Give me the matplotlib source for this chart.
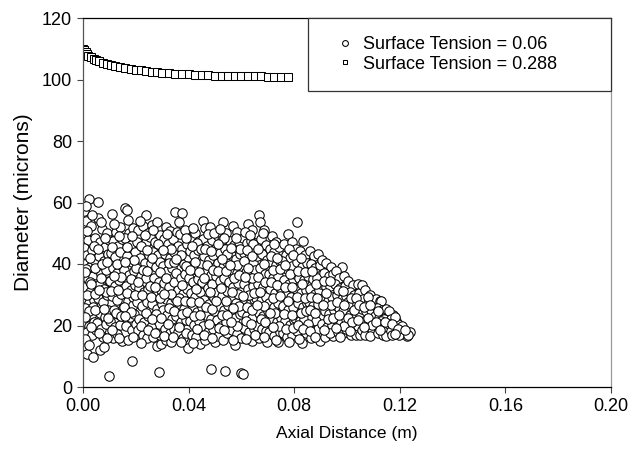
import matplotlib
matplotlib.use("Agg")
import matplotlib.pyplot as plt

plt.rcParams['font.family'] = ['Liberation Sans', 'DejaVu Sans']

# Surface Tension = 0.288 (squares)
sq_x = [0.000, 0.0005, 0.001, 0.0015, 0.002, 0.003, 0.004, 0.005, 0.006, 0.0075,
        0.009, 0.0105, 0.012, 0.014, 0.016, 0.018, 0.020, 0.022, 0.024, 0.026,
        0.028, 0.030, 0.0325, 0.035, 0.0375, 0.040, 0.0425, 0.045, 0.0475, 0.050,
        0.0525, 0.055, 0.0575, 0.060, 0.0625, 0.065, 0.0675, 0.070, 0.0725, 0.075,
        0.0775]
sq_y = [110.0, 109.6, 109.0, 108.4, 107.8, 107.2, 106.7, 106.3, 105.9, 105.5,
        105.1, 104.8, 104.5, 104.1, 103.8, 103.5, 103.2, 103.0, 102.8, 102.6,
        102.4, 102.2, 102.0, 101.9, 101.8, 101.7, 101.6, 101.5, 101.4, 101.3,
        101.2, 101.2, 101.1, 101.1, 101.0, 101.0, 101.0, 100.9, 100.9, 100.9,
        100.9]

# Surface Tension = 0.06 (circles) (x in m, d in microns)
band_00 = [(0.0005, 57.3), (0.0024, 61.1), (0.0010, 54.0), (0.0030, 52.5), (0.0008, 49.5), (0.0020, 47.8),
           (0.0045, 48.6), (0.0003, 45.2), (0.0015, 43.0), (0.0035, 44.5), (0.0006, 40.1), (0.0025, 39.0),
           (0.0042, 41.2), (0.0002, 36.8), (0.0018, 35.2), (0.0038, 36.0), (0.0009, 32.4), (0.0028, 31.0),
           (0.0047, 33.5), (0.0004, 28.9), (0.0021, 27.4), (0.0040, 28.2), (0.0012, 24.6), (0.0032, 23.5),
           (0.0001, 21.3), (0.0022, 19.8), (0.0043, 21.0), (0.0014, 17.9), (0.0033, 16.8), (0.0014, 10.8),
           (0.0039, 9.7), (0.0007, 25.8), (0.0026, 34.1), (0.0011, 38.3), (0.0036, 26.0), (0.0048, 18.5)]
band_05 = [(0.0058, 60.3), (0.0072, 51.3), (0.0055, 55.0), (0.0090, 50.2), (0.0065, 47.0), (0.0082, 45.5),
           (0.0098, 47.8), (0.0060, 42.6), (0.0078, 41.0), (0.0094, 43.2), (0.0053, 38.4), (0.0070, 36.9),
           (0.0088, 38.0), (0.0062, 33.3), (0.0080, 32.0), (0.0097, 34.5), (0.0056, 29.1), (0.0074, 27.6),
           (0.0091, 29.8), (0.0066, 24.2), (0.0084, 22.9), (0.0052, 20.7), (0.0070, 19.0), (0.0089, 20.6),
           (0.0064, 12.1), (0.0080, 13.0), (0.0076, 16.4), (0.0095, 25.0), (0.0100, 3.6)]
band_10 = [(0.0109, 56.2), (0.0125, 50.5), (0.0140, 52.0), (0.0115, 47.4), (0.0133, 46.0), (0.0148, 48.0),
           (0.0105, 43.6), (0.0122, 42.2), (0.0139, 44.0), (0.0112, 38.8), (0.0130, 37.2), (0.0146, 39.5),
           (0.0103, 34.6), (0.0120, 33.0), (0.0137, 34.8), (0.0110, 29.7), (0.0127, 28.2), (0.0144, 30.4),
           (0.0117, 25.0), (0.0134, 23.8), (0.0104, 21.4), (0.0121, 19.5), (0.0141, 20.2), (0.0113, 16.0),
           (0.0147, 14.8), (0.0128, 17.2), (0.0150, 25.6)]
band_15 = [(0.0159, 58.1), (0.0165, 57.6), (0.0175, 50.0), (0.0190, 51.8), (0.0158, 48.5), (0.0183, 46.2),
           (0.0198, 44.0), (0.0168, 42.5), (0.0187, 40.6), (0.0155, 38.0), (0.0174, 36.4), (0.0193, 37.8),
           (0.0162, 33.0), (0.0180, 31.5), (0.0197, 33.2), (0.0170, 28.1), (0.0188, 26.6), (0.0156, 26.0),
           (0.0177, 22.7), (0.0195, 23.8), (0.0163, 20.0), (0.0184, 18.4), (0.0199, 20.5), (0.0172, 15.3),
           (0.0184, 8.5), (0.0191, 29.4)]
band_20 = [(0.0239, 55.9), (0.0210, 51.0), (0.0228, 52.5), (0.0245, 50.0), (0.0205, 47.2), (0.0222, 45.8),
           (0.0240, 47.0), (0.0215, 42.0), (0.0233, 40.4), (0.0249, 42.8), (0.0202, 38.6), (0.0220, 36.0),
           (0.0237, 35.4), (0.0212, 32.2), (0.0230, 30.8), (0.0247, 32.0), (0.0204, 27.8), (0.0224, 26.2),
           (0.0242, 27.5), (0.0214, 22.0), (0.0232, 21.0), (0.0248, 23.0), (0.0208, 18.5), (0.0226, 17.0),
           (0.0243, 15.8), (0.0218, 14.2)]
band_25 = [(0.0260, 52.6), (0.0280, 53.8), (0.0255, 48.8), (0.0272, 47.0), (0.0290, 49.5), (0.0265, 44.0),
           (0.0283, 43.0), (0.0298, 45.2), (0.0257, 40.2), (0.0276, 39.0), (0.0293, 40.6), (0.0268, 35.6),
           (0.0286, 34.2), (0.0253, 33.0), (0.0275, 30.0), (0.0295, 31.4), (0.0262, 27.0), (0.0282, 25.5),
           (0.0299, 27.0), (0.0270, 21.5), (0.0288, 20.4), (0.0256, 19.6), (0.0279, 13.2), (0.0266, 16.4),
           (0.0297, 14.0), (0.0287, 5.0), (0.0291, 17.0)]
band_30 = [(0.0348, 57.0), (0.0315, 52.0), (0.0330, 50.6), (0.0305, 48.0), (0.0322, 46.6), (0.0340, 48.2),
           (0.0310, 43.4), (0.0328, 42.0), (0.0345, 44.0), (0.0302, 39.5), (0.0318, 37.6), (0.0336, 38.8),
           (0.0308, 33.8), (0.0326, 32.5), (0.0343, 34.2), (0.0314, 28.6), (0.0332, 27.2), (0.0349, 29.0),
           (0.0304, 25.0), (0.0320, 23.4), (0.0338, 22.0), (0.0311, 19.0), (0.0329, 17.6), (0.0346, 18.8),
           (0.0316, 15.2), (0.0335, 14.6)]
band_35 = [(0.0374, 56.5), (0.0355, 50.5), (0.0368, 49.8), (0.0385, 51.2), (0.0358, 46.0), (0.0376, 44.8),
           (0.0394, 46.5), (0.0363, 41.5), (0.0381, 40.0), (0.0398, 42.2), (0.0353, 37.0), (0.0370, 35.6),
           (0.0388, 36.8), (0.0360, 31.6), (0.0378, 30.2), (0.0395, 32.0), (0.0366, 26.8), (0.0384, 25.4),
           (0.0352, 23.2), (0.0372, 21.0), (0.0390, 21.8), (0.0359, 17.8), (0.0380, 16.0), (0.0397, 12.6),
           (0.0392, 17.4), (0.0362, 28.8)]
band_40 = [(0.0456, 53.9), (0.0410, 48.6), (0.0425, 50.0), (0.0440, 47.6), (0.0405, 44.2), (0.0420, 43.0),
           (0.0437, 44.6), (0.0413, 39.4), (0.0430, 38.2), (0.0447, 40.0), (0.0402, 35.5), (0.0418, 34.0),
           (0.0435, 35.0), (0.0408, 30.5), (0.0426, 29.2), (0.0444, 30.8), (0.0415, 26.0), (0.0432, 24.4),
           (0.0449, 26.0), (0.0404, 21.6), (0.0422, 20.2), (0.0439, 21.6), (0.0411, 17.0), (0.0429, 16.2),
           (0.0443, 14.0), (0.0448, 18.4)]
band_45 = [(0.0462, 51.6), (0.0480, 52.0), (0.0455, 48.2), (0.0470, 46.0), (0.0488, 47.8), (0.0458, 42.6),
           (0.0476, 41.4), (0.0494, 43.0), (0.0465, 37.8), (0.0483, 36.4), (0.0452, 34.0), (0.0472, 32.2),
           (0.0490, 33.6), (0.0460, 28.4), (0.0478, 27.0), (0.0496, 28.8), (0.0467, 23.4), (0.0485, 22.0),
           (0.0454, 19.8), (0.0474, 18.0), (0.0492, 19.0), (0.0500, 14.6), (0.0464, 15.4), (0.0484, 5.8),
           (0.0498, 24.6)]
band_50 = [(0.0530, 53.6), (0.0510, 49.2), (0.0525, 47.8), (0.0542, 50.0), (0.0505, 45.2), (0.0520, 43.6),
           (0.0538, 45.0), (0.0512, 40.2), (0.0530, 39.0), (0.0547, 40.8), (0.0503, 36.0), (0.0518, 34.6),
           (0.0535, 35.6), (0.0508, 31.0), (0.0526, 29.6), (0.0544, 31.2), (0.0515, 26.2), (0.0533, 25.0),
           (0.0549, 26.6), (0.0506, 21.8), (0.0522, 20.0), (0.0540, 21.2), (0.0512, 16.6), (0.0530, 15.4),
           (0.0546, 17.4), (0.0537, 5.2)]
band_55 = [(0.0568, 52.2), (0.0585, 50.4), (0.0555, 47.6), (0.0572, 46.2), (0.0590, 47.2), (0.0560, 42.8),
           (0.0578, 41.6), (0.0595, 43.4), (0.0565, 38.2), (0.0583, 37.0), (0.0553, 34.0), (0.0570, 32.6),
           (0.0588, 33.8), (0.0598, 29.0), (0.0562, 28.6), (0.0580, 27.2), (0.0557, 23.8), (0.0575, 22.4),
           (0.0593, 23.6), (0.0564, 18.6), (0.0582, 17.2), (0.0576, 13.5), (0.0597, 16.0), (0.0600, 4.5),
           (0.0587, 30.2)]
band_60 = [(0.0625, 53.0), (0.0640, 51.2), (0.0605, 48.4), (0.0620, 46.8), (0.0637, 47.6), (0.0648, 44.4),
           (0.0610, 43.6), (0.0628, 42.0), (0.0645, 40.2), (0.0603, 39.0), (0.0617, 37.4), (0.0634, 36.2),
           (0.0650, 37.8), (0.0608, 33.6), (0.0626, 32.0), (0.0643, 32.8), (0.0614, 28.4), (0.0632, 27.0),
           (0.0649, 28.6), (0.0604, 24.4), (0.0622, 23.0), (0.0639, 22.6), (0.0611, 19.2), (0.0630, 17.8),
           (0.0646, 18.8), (0.0639, 14.8), (0.0618, 15.6), (0.0605, 4.3)]
band_65 = [(0.0667, 56.0), (0.0670, 53.5), (0.0687, 51.1), (0.0655, 46.8), (0.0673, 48.0), (0.0692, 46.2),
           (0.0660, 42.6), (0.0678, 43.4), (0.0696, 41.2), (0.0653, 38.0), (0.0671, 38.6), (0.0689, 36.8),
           (0.0662, 33.6), (0.0680, 32.4), (0.0698, 33.8), (0.0656, 29.0), (0.0675, 28.0), (0.0693, 29.4),
           (0.0665, 24.2), (0.0683, 23.2), (0.0700, 24.6), (0.0658, 20.0), (0.0677, 19.0), (0.0695, 18.2),
           (0.0696, 14.5), (0.0668, 16.0)]
band_70 = [(0.0715, 49.0), (0.0732, 47.0), (0.0708, 45.0), (0.0724, 44.0), (0.0742, 45.6), (0.0712, 40.8),
           (0.0730, 39.6), (0.0747, 41.0), (0.0703, 36.6), (0.0720, 35.4), (0.0738, 36.0), (0.0710, 31.8),
           (0.0727, 30.6), (0.0745, 32.2), (0.0705, 27.2), (0.0722, 26.0), (0.0740, 27.4), (0.0716, 22.2),
           (0.0734, 21.0), (0.0749, 22.4), (0.0706, 18.0), (0.0725, 16.6), (0.0740, 14.7), (0.0748, 17.8)]
band_75 = [(0.0775, 49.9), (0.0760, 46.6), (0.0790, 47.0), (0.0768, 43.0), (0.0785, 42.0), (0.0755, 41.0),
           (0.0773, 38.4), (0.0792, 39.2), (0.0762, 34.8), (0.0780, 33.6), (0.0797, 35.0), (0.0753, 31.4),
           (0.0770, 30.0), (0.0788, 29.2), (0.0758, 26.2), (0.0776, 25.0), (0.0794, 26.0), (0.0765, 21.4),
           (0.0783, 20.2), (0.0799, 21.8), (0.0757, 17.6), (0.0774, 16.2), (0.0791, 17.0), (0.0782, 14.6)]
band_80 = [(0.0810, 53.5), (0.0834, 47.5), (0.0805, 45.0), (0.0822, 44.2), (0.0840, 43.0), (0.0812, 40.6),
           (0.0830, 39.0), (0.0847, 40.4), (0.0803, 36.8), (0.0819, 35.4), (0.0837, 34.8), (0.0808, 32.0),
           (0.0826, 30.6), (0.0844, 31.6), (0.0815, 27.4), (0.0832, 26.0), (0.0849, 27.2), (0.0804, 22.6),
           (0.0821, 21.4), (0.0838, 22.0), (0.0811, 18.2), (0.0828, 14.3), (0.0845, 17.6), (0.0817, 15.6)]
band_85 = [(0.0858, 44.2), (0.0875, 42.6), (0.0892, 43.4), (0.0862, 40.0), (0.0880, 38.8), (0.0897, 39.6),
           (0.0853, 36.0), (0.0870, 35.0), (0.0888, 35.6), (0.0860, 31.8), (0.0877, 30.4), (0.0895, 31.6),
           (0.0855, 27.6), (0.0873, 26.4), (0.0890, 27.0), (0.0866, 22.8), (0.0884, 21.6), (0.0852, 20.4),
           (0.0871, 18.2), (0.0889, 18.8), (0.0898, 15.0), (0.0863, 15.8)]
band_90 = [(0.0905, 41.4), (0.0922, 40.4), (0.0940, 39.0), (0.0912, 37.2), (0.0930, 36.0), (0.0947, 36.8),
           (0.0903, 33.4), (0.0920, 32.4), (0.0937, 32.8), (0.0910, 29.0), (0.0927, 28.0), (0.0945, 29.2),
           (0.0915, 24.8), (0.0933, 23.8), (0.0950, 25.0), (0.0907, 20.6), (0.0925, 19.6), (0.0942, 20.2),
           (0.0918, 16.4), (0.0948, 16.5), (0.0935, 17.6)]
band_95 = [(0.0980, 39.0), (0.0958, 37.8), (0.0970, 35.4), (0.0988, 36.0), (0.0955, 33.6), (0.0975, 32.2),
           (0.0993, 33.0), (0.0962, 29.8), (0.0980, 28.6), (0.0997, 29.6), (0.0953, 26.6), (0.0968, 25.6),
           (0.0986, 24.6), (0.0959, 22.0), (0.0977, 21.0), (0.0995, 22.0), (0.0965, 18.0), (0.0983, 17.6),
           (0.0998, 18.8), (0.0973, 16.2)]
band_100 = [(0.1005, 34.6), (0.1022, 33.2), (0.1040, 33.6), (0.1010, 31.0), (0.1028, 30.0), (0.1045, 30.6),
            (0.1003, 27.6), (0.1018, 26.6), (0.1036, 27.0), (0.1012, 23.4), (0.1030, 22.6), (0.1048, 23.8),
            (0.1008, 20.0), (0.1025, 19.0), (0.1042, 19.8), (0.1015, 16.8), (0.1035, 17.0), (0.1050, 16.8)]
band_105 = [(0.1058, 33.3), (0.1070, 31.4), (0.1088, 30.0), (0.1062, 28.6), (0.1080, 27.4), (0.1097, 28.0),
            (0.1055, 25.4), (0.1073, 24.6), (0.1091, 25.0), (0.1066, 21.6), (0.1084, 20.8), (0.1100, 22.0),
            (0.1058, 18.6), (0.1077, 17.8), (0.1094, 18.6), (0.1068, 16.8), (0.1086, 16.6)]
band_110 = [(0.1108, 28.6), (0.1125, 28.0), (0.1130, 27.9), (0.1115, 25.8), (0.1134, 25.0), (0.1148, 25.4),
            (0.1105, 23.2), (0.1122, 22.6), (0.1140, 22.0), (0.1112, 20.0), (0.1130, 19.4), (0.1147, 19.6),
            (0.1118, 17.4), (0.1138, 17.0), (0.1147, 16.5)]
band_115 = [(0.1175, 23.5), (0.1160, 24.6), (0.1168, 22.0), (0.1185, 21.6), (0.1158, 20.4), (0.1178, 19.6),
            (0.1195, 20.4), (0.1165, 18.2), (0.1188, 18.0), (0.1210, 19.7), (0.1203, 18.2), (0.1215, 17.6),
            (0.1226, 16.5), (0.1239, 18.0), (0.1172, 16.8), (0.1198, 16.8), (0.1230, 17.0)]

# more droplets filling the dense part of the cloud
fill_a = [(0.0013, 59.0), (0.0035, 56.0), (0.0017, 50.8), (0.0040, 46.0), (0.0027, 42.0), (0.0008, 37.5),
          (0.0046, 38.6), (0.0031, 33.6), (0.0014, 30.0), (0.0044, 30.4), (0.0024, 24.8), (0.0006, 22.8),
          (0.0047, 25.2), (0.0030, 19.5), (0.0008, 15.6), (0.0023, 13.8), (0.0068, 53.8), (0.0085, 48.6),
          (0.0058, 45.0), (0.0072, 40.0), (0.0092, 40.5), (0.0067, 35.5), (0.0086, 30.8), (0.0059, 31.5),
          (0.0078, 25.4), (0.0096, 22.4), (0.0061, 17.4), (0.0092, 15.8), (0.0118, 53.0), (0.0135, 49.0),
          (0.0108, 45.4), (0.0127, 40.0), (0.0145, 35.8), (0.0118, 36.0), (0.0107, 31.2), (0.0131, 31.4),
          (0.0124, 24.0), (0.0145, 23.0), (0.0108, 18.4), (0.0136, 16.0), (0.0170, 54.2), (0.0185, 49.0),
          (0.0165, 45.4), (0.0194, 41.4), (0.0160, 40.5), (0.0182, 35.0), (0.0167, 30.5), (0.0196, 30.0),
          (0.0183, 24.5), (0.0160, 23.2), (0.0190, 16.4), (0.0215, 54.0), (0.0235, 49.4), (0.0218, 46.0),
          (0.0244, 44.6), (0.0227, 38.2), (0.0208, 34.0), (0.0243, 37.6), (0.0225, 30.0), (0.0238, 24.2),
          (0.0220, 20.0), (0.0246, 18.6), (0.0267, 51.0), (0.0285, 46.5), (0.0262, 42.0), (0.0290, 37.4),
          (0.0272, 32.6), (0.0258, 29.4), (0.0290, 28.8), (0.0278, 23.6), (0.0262, 22.0), (0.0294, 22.4),
          (0.0271, 17.6), (0.0320, 49.8), (0.0335, 45.0), (0.0303, 44.6), (0.0324, 40.2), (0.0345, 40.8),
          (0.0313, 35.4), (0.0334, 30.2), (0.0305, 30.2), (0.0327, 25.6), (0.0345, 24.8), (0.0322, 20.6),
          (0.0307, 16.6), (0.0342, 16.2)]
fill_b = [(0.0362, 53.6), (0.0390, 48.6), (0.0370, 43.0), (0.0352, 41.6), (0.0392, 39.2), (0.0375, 33.2),
          (0.0357, 28.0), (0.0388, 28.0), (0.0375, 23.6), (0.0393, 24.4), (0.0365, 19.4), (0.0370, 14.6),
          (0.0418, 51.6), (0.0433, 46.8), (0.0412, 45.8), (0.0446, 45.0), (0.0423, 40.6), (0.0405, 38.2),
          (0.0440, 37.4), (0.0428, 32.0), (0.0410, 27.6), (0.0438, 27.6), (0.0420, 23.0), (0.0445, 23.4),
          (0.0433, 18.8), (0.0418, 14.4), (0.0472, 49.6), (0.0495, 50.0), (0.0462, 45.0), (0.0484, 44.2),
          (0.0470, 39.8), (0.0492, 38.0), (0.0458, 35.6), (0.0480, 31.0), (0.0465, 26.0), (0.0490, 25.4),
          (0.0476, 20.6), (0.0458, 17.0), (0.0490, 16.0), (0.0518, 51.4), (0.0535, 48.6), (0.0510, 46.6),
          (0.0545, 43.4), (0.0525, 41.6), (0.0510, 37.8), (0.0540, 37.6), (0.0522, 32.2), (0.0540, 28.0),
          (0.0505, 28.0), (0.0525, 23.4), (0.0546, 23.4), (0.0515, 19.2), (0.0535, 18.4), (0.0578, 48.6),
          (0.0595, 45.0), (0.0562, 45.2), (0.0585, 39.6), (0.0557, 39.6), (0.0573, 35.4), (0.0592, 36.4),
          (0.0566, 31.0), (0.0592, 26.4), (0.0570, 25.8), (0.0584, 20.0), (0.0560, 21.0), (0.0568, 15.4),
          (0.0615, 50.4), (0.0632, 49.4), (0.0645, 46.6), (0.0622, 44.4), (0.0640, 42.6), (0.0608, 41.0),
          (0.0625, 38.6), (0.0642, 35.4), (0.0612, 35.8), (0.0630, 30.0), (0.0648, 30.6), (0.0606, 29.6),
          (0.0620, 26.0), (0.0640, 25.2), (0.0616, 21.6), (0.0635, 20.4), (0.0650, 16.8), (0.0680, 50.2),
          (0.0662, 45.0), (0.0684, 40.0), (0.0664, 35.8), (0.0690, 34.2), (0.0670, 31.0), (0.0686, 26.4),
          (0.0660, 26.6), (0.0674, 22.2), (0.0690, 21.2), (0.0684, 16.2)]
fill_c = [(0.0725, 46.6), (0.0712, 42.6), (0.0735, 41.8), (0.0720, 38.0), (0.0745, 38.4), (0.0712, 34.0),
          (0.0734, 33.2), (0.0718, 29.0), (0.0745, 29.6), (0.0728, 24.0), (0.0710, 24.2), (0.0742, 19.8),
          (0.0718, 19.4), (0.0730, 15.2), (0.0782, 45.0), (0.0765, 39.6), (0.0795, 42.8), (0.0785, 36.6),
          (0.0767, 32.4), (0.0790, 32.4), (0.0778, 28.0), (0.0762, 23.8), (0.0790, 23.4), (0.0770, 19.0),
          (0.0795, 19.2), (0.0826, 42.0), (0.0815, 37.6), (0.0842, 37.4), (0.0828, 33.4), (0.0812, 29.4),
          (0.0840, 28.8), (0.0825, 24.0), (0.0845, 24.6), (0.0815, 20.2), (0.0835, 19.0), (0.0866, 37.6),
          (0.0884, 33.6), (0.0865, 29.2), (0.0885, 29.0), (0.0858, 25.0), (0.0880, 24.2), (0.0860, 18.2),
          (0.0878, 16.2), (0.0914, 34.6), (0.0935, 34.6), (0.0920, 30.6), (0.0940, 26.8), (0.0910, 26.6),
          (0.0928, 22.0), (0.0946, 22.6), (0.0912, 18.4), (0.0966, 31.6), (0.0985, 31.2), (0.0962, 27.6),
          (0.0990, 26.8), (0.0970, 23.4), (0.0988, 20.0), (0.0958, 19.2), (0.1015, 28.8), (0.1035, 29.0),
          (0.1025, 25.0), (0.1045, 26.6), (0.1005, 22.4), (0.1020, 21.2), (0.1040, 21.8), (0.1010, 18.2),
          (0.1078, 29.4), (0.1065, 26.0), (0.1088, 26.8), (0.1078, 22.6), (0.1095, 20.2), (0.1065, 19.4),
          (0.1118, 24.8), (0.1130, 21.4), (0.1108, 21.0), (0.1145, 21.0), (0.1125, 18.4), (0.1182, 22.8),
          (0.1170, 20.6), (0.1192, 19.0), (0.1220, 18.6), (0.1182, 17.2)]

bands = [band_00, band_05, band_10, band_15, band_20, band_25, band_30, band_35, band_40,
         band_45, band_50, band_55, band_60, band_65, band_70, band_75, band_80, band_85,
         band_90, band_95, band_100, band_105, band_110, band_115, fill_a, fill_b, fill_c]
circ_x = [p[0] for b in bands for p in b]
circ_y = [p[1] for b in bands for p in b]

x_ticks = [0.00, 0.04, 0.08, 0.12, 0.16, 0.20]
x_labels = ['0.00', '0.04', '0.08', '0.12', '0.16', '0.20']
y_ticks = [0, 20, 40, 60, 80, 100, 120]

fig = plt.figure(figsize=(6.41, 4.49), dpi=100)
ax = fig.add_axes([83 / 641, 1 - 387 / 449, 528 / 641, 369 / 449])

ax.plot(circ_x, circ_y, linestyle='none', marker='o', markersize=6.8,
        markerfacecolor='white', markeredgecolor='black', markeredgewidth=0.75,
        label='Surface Tension = 0.06')
ax.plot(sq_x, sq_y, linestyle='none', marker='s', markersize=5.2,
        markerfacecolor='white', markeredgecolor='black', markeredgewidth=0.75,
        label='Surface Tension = 0.288')

ax.set_xlim(0, 0.20)
ax.set_ylim(0, 120)
ax.set_xticks(x_ticks)
ax.set_xticklabels(x_labels)
ax.set_yticks(y_ticks)
ax.tick_params(axis='both', direction='out', length=4, width=0.8, color='#444444',
               labelsize=13, pad=4)

ax.spines['left'].set_color('#555555')
ax.spines['right'].set_color('#999999')
ax.spines['top'].set_color('black')
ax.spines['bottom'].set_color('black')
for s in ax.spines.values():
    s.set_linewidth(0.9)

ax.set_xlabel('Axial Distance (m)', fontsize=12.5, labelpad=8)
ax.set_ylabel('Diameter (microns)', fontsize=15, labelpad=6)

leg = ax.legend(loc='upper left', bbox_to_anchor=(308 / 641, 1 - 90 / 449, 303 / 641, 72 / 449),
                bbox_transform=fig.transFigure, mode='expand', borderaxespad=0,
                fontsize=13, markerscale=0.62, handlelength=2.1, handletextpad=-0.05,
                borderpad=1.0, labelspacing=0.15, fancybox=False, framealpha=1)
leg.get_frame().set_edgecolor('#333333')
leg.get_frame().set_linewidth(0.9)

fig.savefig('out.png', dpi=100)
